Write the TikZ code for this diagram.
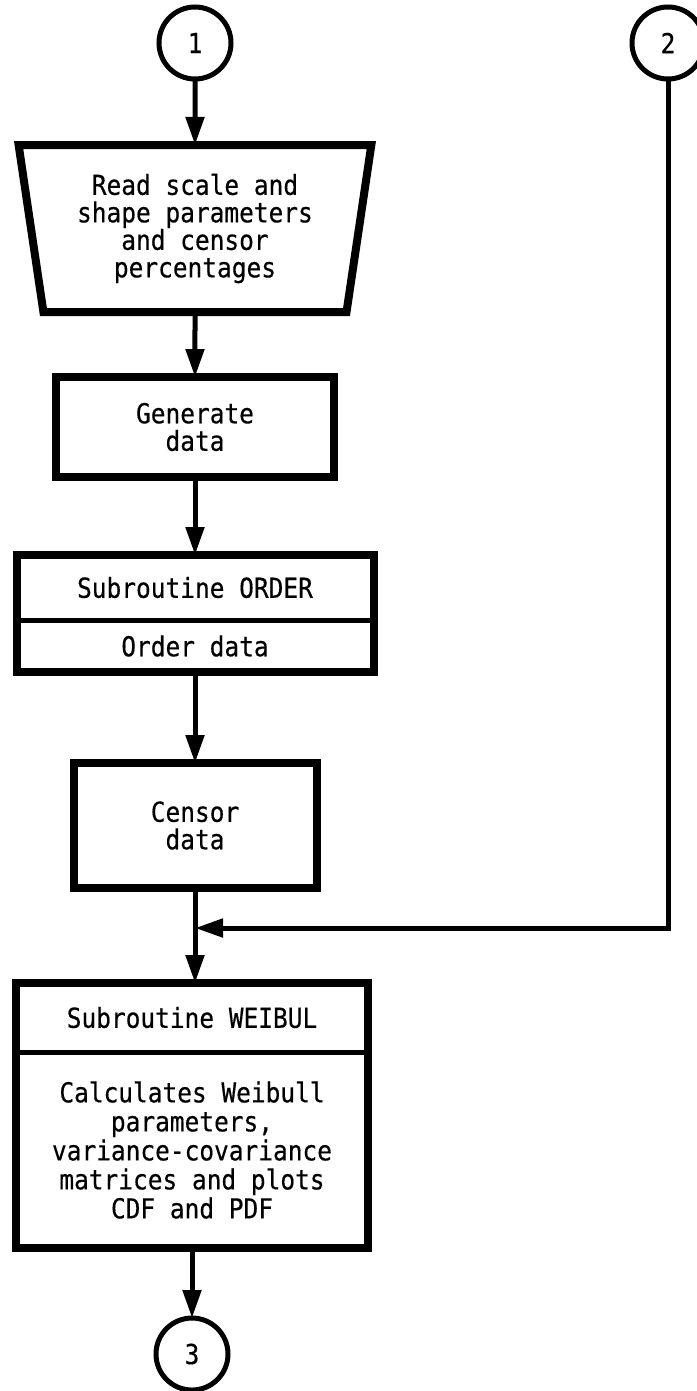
\documentclass[tikz,border=0pt]{standalone}
\usepackage{fontspec}
\newfontfamily\flowfont[FakeStretch=0.89,FakeBold=0.4]{DejaVu Sans Mono}
\usetikzlibrary{arrows.meta,positioning,fit,shapes.geometric}
\tikzset{
  box/.style={draw=black, line width=8pt, align=center, outer sep=0pt, inner sep=0pt},
  proc/.style={box, minimum width=#1},
  inout/.style={box, trapezium, shape border rotate=180, trapezium left angle=80, trapezium right angle=80, minimum height=167pt, minimum width=354pt, trapezium stretches=true},
  conn/.style={draw=black, line width=5pt, circle, minimum size=72pt, inner sep=0pt, outer sep=0pt},
  part/.style={minimum width=#1, align=center, inner sep=0pt, outer sep=0pt},
  divider/.style={draw=black, line width=5pt},
  arrow/.style={-{Triangle[length=28pt,width=18pt]}, line width=5pt, draw=black}
}
\begin{document}
\begin{tikzpicture}[x=1pt, y=-1pt, font=\flowfont\fontsize{27.5}{27.5}\selectfont]
\useasboundingbox (0,0) rectangle (696,1391);
\node[conn] (c1) at (195,43) {1};
\node[conn] (c2) at (668,43) {2};
\node[inout, below=66pt of c1] (read) {Read scale and\\shape parameters\\and censor\\percentages};
\node[proc=278pt, minimum height=100pt, below=65pt of read] (gen) {Generate\\data};
% subroutine ORDER
\node[part=357pt, minimum height=65pt, below=78pt of gen] (orderhead) {Subroutine ORDER};
\node[part=357pt, minimum height=52pt, below=0pt of orderhead] (orderbody) {Order data};
\node[box, fit=(orderhead)(orderbody)] (order) {};
\draw[divider] (orderhead.south west) -- (orderhead.south east);
\node[proc=243pt, minimum height=125pt, below=91pt of order] (censor) {Censor\\data};
\coordinate[below=40pt of censor] (join);
% subroutine WEIBUL
\node[part=352pt, minimum height=69pt, below=95pt of censor, xshift=-3pt] (weibulhead) {Subroutine WEIBUL};
\node[part=352pt, minimum height=196pt, below=0pt of weibulhead, font=\flowfont\fontsize{27.5}{29}\selectfont] (weibulbody) {Calculates Weibull\\parameters,\\variance-covariance\\matrices and plots\\CDF and PDF};
\node[box, fit=(weibulhead)(weibulbody)] (weibul) {};
\draw[divider] (weibulhead.south west) -- (weibulhead.south east);
\node[conn, below=70pt of weibul] (c3) {3};
\draw[arrow] (c1) -- (read);
\draw[arrow] (read) -- (gen);
\draw[arrow] (gen) -- (order);
\draw[arrow] (order) -- (censor);
\draw[arrow] (censor) -- (censor |- weibul.north);
\draw[arrow] (c2.south) |- (join);
\draw[arrow] (weibul) -- (c3);
\end{tikzpicture}
\end{document}
